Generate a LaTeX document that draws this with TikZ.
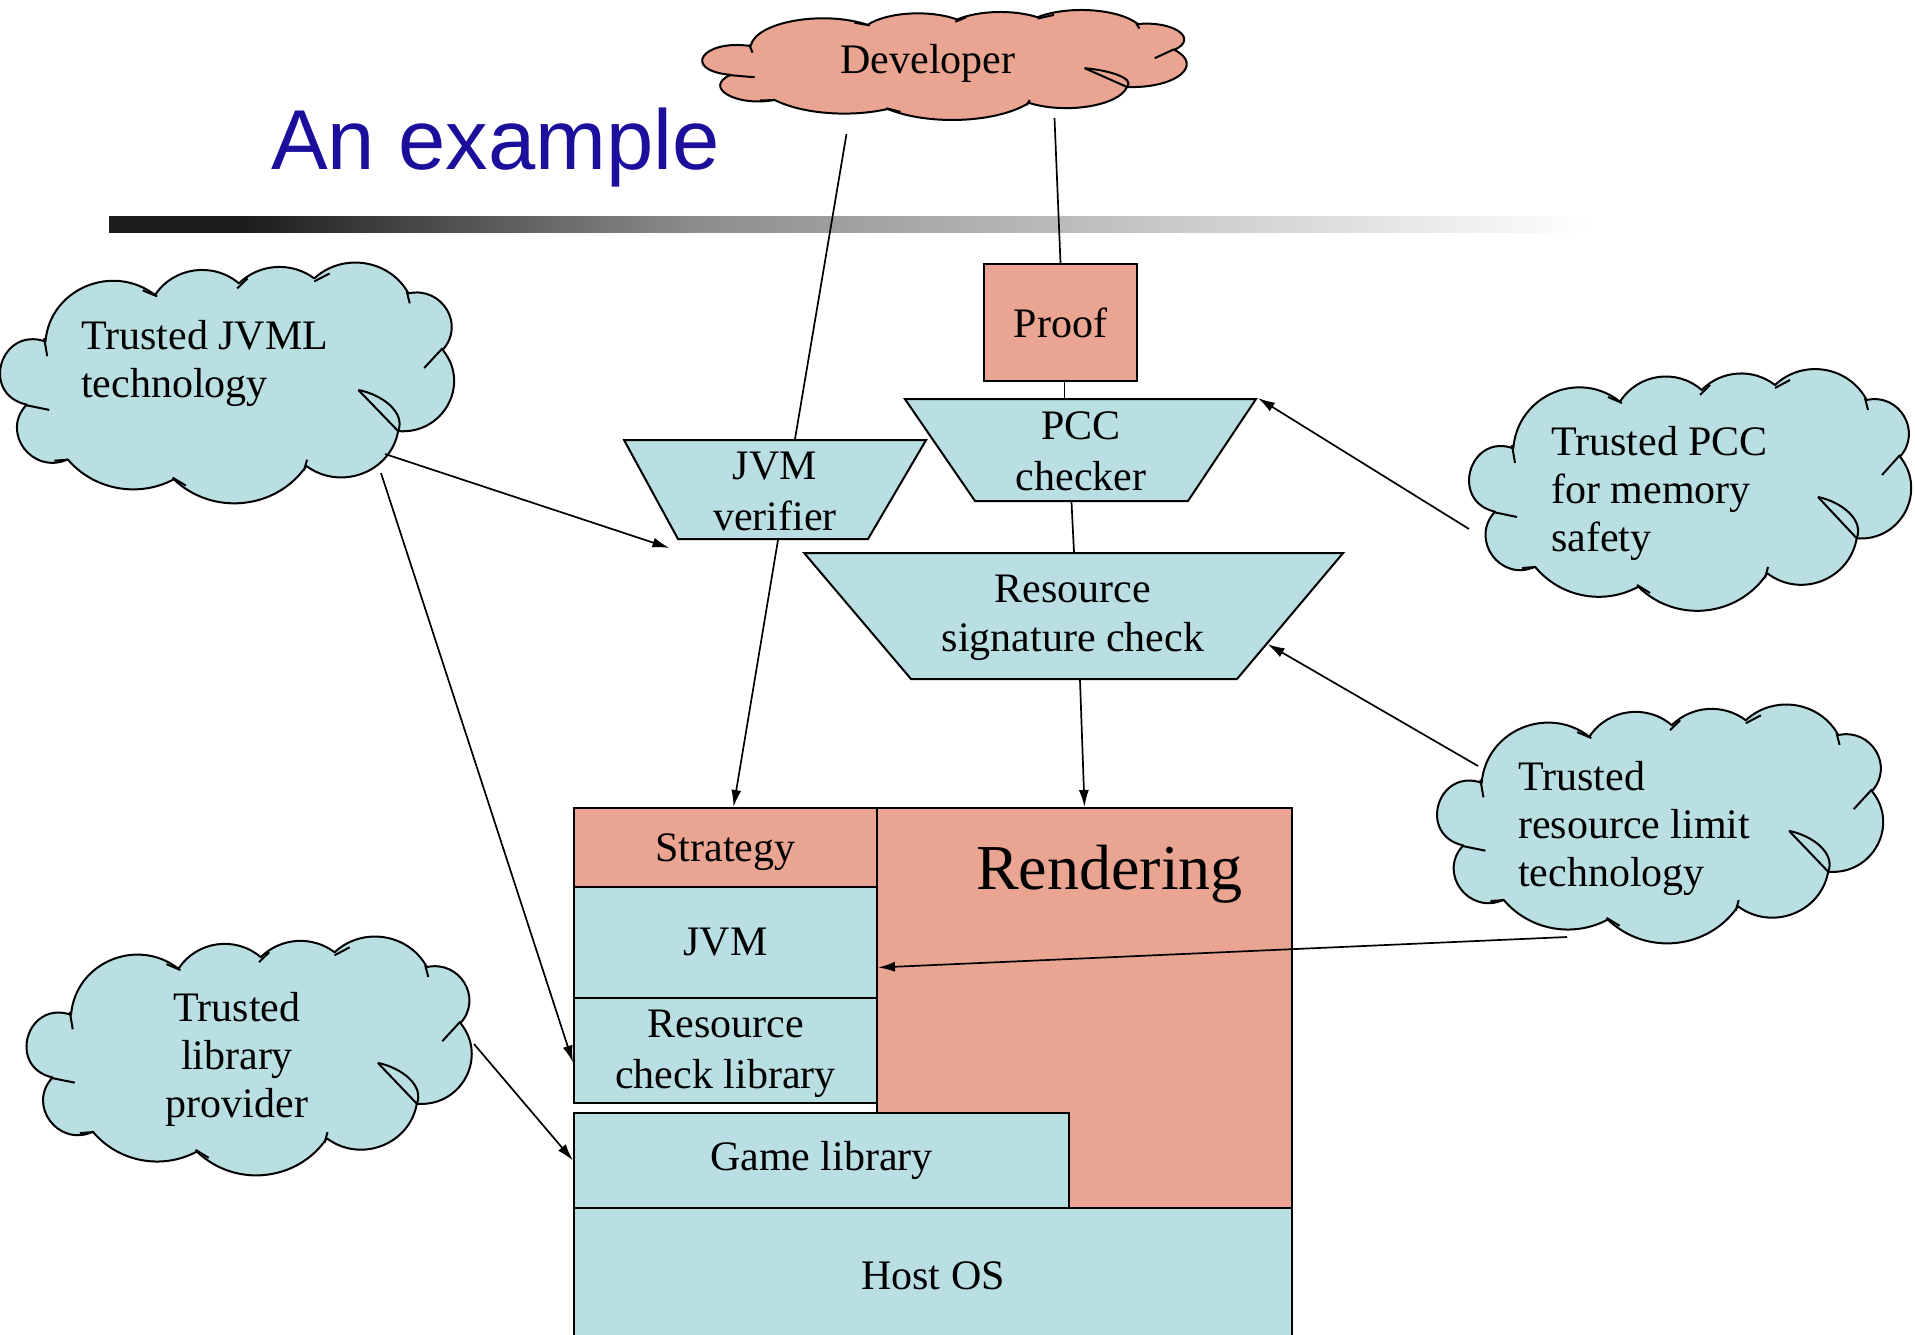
\documentclass[tikz,border=0pt]{standalone}
\usepackage{fontspec}
\setmainfont{Liberation Serif}
\newfontfamily\titlefont{Liberation Sans}
\usepackage{tikz}
\usetikzlibrary{shapes.geometric,arrows.meta,calc}
\definecolor{salmon}{HTML}{E9A492}
\definecolor{paleblue}{HTML}{BADFE3}
\definecolor{titleblue}{HTML}{1B0F9C}
\definecolor{bardark}{HTML}{1C1C1C}
\definecolor{barmid}{HTML}{8C8C8C}
\pgfdeclarehorizontalshading{rulefade}{100bp}{color(0bp)=(bardark); color(29.5bp)=(bardark); color(44.7bp)=(barmid); color(75bp)=(white); color(100bp)=(white)}
\tikzstyle{edge} = [draw,line width=1.7pt]
\tikzstyle{post} = [edge,-{Latex[length=17pt,width=10pt]}]
\tikzstyle{box} = [draw,line width=2pt,rectangle,inner sep=0pt]
\tikzstyle{trap} = [draw,line width=2pt,fill=paleblue,trapezium]
\tikzstyle{spot} = [ellipse,inner sep=0pt]
\tikzstyle{puffline} = [draw,line width=2pt,line join=round]
\tikzstyle{tall} = [align=center,inner sep=0pt,font=\fontsize{42}{51}\selectfont]
\tikzstyle{says} = [align=left,inner sep=0pt,font=\fontsize{42}{48}\selectfont]

% cloud outline with its little curls, #1 fill, #2 node, #3 xscale, #4 yscale
\newcommand\puffcloud[4]{%
  \begin{scope}[shift={(#2.center)},xscale=#3,yscale=#4]
    \draw[puffline,fill=#1] (-178.7,-41.7)
      .. controls (-174.6,-94.4) and (-113.3,-121.1) .. (-72,-88.3)
      .. controls (-54.1,-116.5) and (-15.4,-122) .. (9.7,-100)
      .. controls (29.3,-120) and (60.9,-122.1) .. (83,-105)
      .. controls (111,-131.4) and (156.6,-124) .. (174.7,-90)
      .. controls (207.5,-97.3) and (230.4,-58.4) .. (208,-33.3)
      .. controls (235.7,1.1) and (208.7,52) .. (164.7,48.3)
      .. controls (157.5,89.7) and (108.8,108.8) .. (75.3,83.3)
      .. controls (46,127.3) and (-16.1,133.7) .. (-53.7,96.7)
      .. controls (-88.4,115.7) and (-131.9,107.3) .. (-157,76.7)
      .. controls (-191.4,92.7) and (-222.9,49.5) .. (-197,21.7)
      .. controls (-242.6,11.4) and (-222.8,-57.3) .. (-178.7,-41.7) -- cycle;
    \draw[puffline] (-180,-45) -- (-177,-27);
    \draw[puffline] (-199,22) -- (-175,27);
    \draw[puffline] (-157,77) -- (-170,78);
    \draw[puffline] (-55,95) -- (-42,103);
    \draw[puffline] (76,77) -- (73,88);
    \draw[puffline] (126,7) -- (164.7,48.3);
    \draw[puffline] (126,7) .. controls (150,12) and (172,30) .. (164.7,48.3);
    \draw[puffline] (190,-15) -- (208,-35);
    \draw[puffline] (173,-92) -- (176,-80);
    \draw[puffline] (83,-102) -- (98,-110);
    \draw[puffline] (8,-95) -- (18,-105);
    \draw[puffline] (-84,-93) -- (-70,-87);
  \end{scope}}

\begin{document}
\begin{tikzpicture}[x=1pt,y=-1pt,font=\fontsize{42}{47}\selectfont]
    \useasboundingbox (0,0) rectangle (1915,1335);

    % title and rule
    \node[anchor=base west,inner sep=0,text=titleblue,font=\titlefont\fontsize{85}{90}\selectfont] (title) at (271,170) {An example};
    \shade[shading=rulefade] (109,216) rectangle (1590,232);

    % clouds
    \node[spot,minimum width=489pt,minimum height=110pt] (dev) at (946.5,65) {};
    \puffcloud{salmon}{dev}{1.096}{0.455}
    \node[inner sep=0] (devtext) at (928,63) {Developer};
    \node[spot,minimum width=458pt,minimum height=241pt] (cjvml) at (229,383) {};
    \puffcloud{paleblue}{cjvml}{1.027}{0.996}
    \node[says,anchor=west] (tjvml) at (81,363) {Trusted JVML\\technology};
    \node[spot,minimum width=449pt,minimum height=239pt] (clib) at (251,1056) {};
    \puffcloud{paleblue}{clib}{1.007}{0.988}
    \node[says,align=center] (tlib) at (237,1059) {Trusted\\library\\provider};
    \node[spot,minimum width=446pt,minimum height=242pt] (cpcc) at (1692,490) {};
    \puffcloud{paleblue}{cpcc}{1}{1}
    \node[says,anchor=west] (tpcc) at (1551,493) {Trusted PCC\\for memory\\safety};
    \node[spot,minimum width=450pt,minimum height=239pt] (cres) at (1662,824) {};
    \puffcloud{paleblue}{cres}{1.009}{0.988}
    \node[says,anchor=west] (tres) at (1518,828) {Trusted\\resource limit\\technology};

    % checkers
    \node[box,fill=salmon,minimum width=153pt,minimum height=117pt] (proof) at (1060.5,322.5) {Proof};
    \node[trap,trapezium left angle=118.6,trapezium right angle=120.4,inner xsep=95pt,inner ysep=49.5pt] (jvmv) at (773,489.5) {};
    \node[tall] (jvmvtext) at (775,491) {JVM\\verifier};
    \node[trap,trapezium left angle=124.5,trapezium right angle=123.7,inner xsep=106.5pt,inner ysep=51pt] (pcc) at (1081.5,450) {};
    \node[tall] (pcctext) at (1081,451) {PCC\\checker};
    \node[trap,trapezium left angle=130.3,trapezium right angle=130.1,inner xsep=163pt,inner ysep=63pt] (rsc) at (1074,616) {};
    \node[tall,font=\fontsize{42}{49}\selectfont] (rsctext) at (1073,618) {Resource\\signature check};

    % platform stack
    \node[box,fill=salmon,minimum width=415pt,minimum height=400pt] (rend) at (1084.5,1008) {};
    \node[anchor=north,inner sep=0,font=\fontsize{64}{70}\selectfont] (rendtext) at ([xshift=25pt,yshift=-38pt]rend.north) {Rendering};
    \node[box,fill=salmon,minimum width=303pt,minimum height=79pt] (strat) at (725.5,847.5) {};
    \node[inner sep=0] (strattext) at (725.5,852) {Strategy};
    \node[box,fill=paleblue,minimum width=303pt,minimum height=111pt] (jvm) at (725.5,942.5) {JVM};
    \node[box,fill=paleblue,minimum width=303pt,minimum height=105pt] (rcl) at (725.5,1050.5) {};
    \node[tall] (rcltext) at (725.5,1054) {Resource\\check library};
    \node[box,fill=paleblue,minimum width=495pt,minimum height=95pt] (game) at (821.5,1160.5) {Game library};
    \node[box,fill=paleblue,minimum width=718pt,minimum height=136pt] (host) at (933,1276) {Host OS};

    % connectors
    \coordinate (devl) at ([shift={(-100,69)}]dev.center);
    \coordinate (devr) at ([shift={(108,53)}]dev.center);
    \draw[edge] (devl) -- ([xshift=22pt]jvmv.north);
    \draw[post] ([xshift=5pt]jvmv.south) -- ([xshift=8pt]strat.north);
    \draw[edge] (devr) -- (proof.north);
    \draw[edge] ([xshift=4pt]proof.south) -- ([xshift=4pt]proof.south |- pcc.north);
    \draw[edge] ([xshift=-10pt]pcc.south) -- (rsc.north);
    \draw[post] ([xshift=6pt]rsc.south) -- (rend.north);
    \draw[post] ([shift={(156,71)}]cjvml.center) -- ([xshift=-8pt,yshift=-8pt]jvmv.bottom left corner);
    \draw[post] ([shift={(152,90)}]cjvml.center) -- ([yshift=-12pt]rcl.west);
    \draw[post] ([shift={(223,-12)}]clib.center) -- (game.west);
    \draw[post] ([shift={(-223,39)}]cpcc.center) -- (pcc.top right corner);
    \draw[post] ([shift={(-184,-58)}]cres.center) -- ($(rsc.top right corner)!0.72!(rsc.bottom right corner)$);
    \draw[post] ([shift={(-95,113)}]cres.center) -- ([yshift=-25pt]jvm.east);
\end{tikzpicture}
\end{document}
